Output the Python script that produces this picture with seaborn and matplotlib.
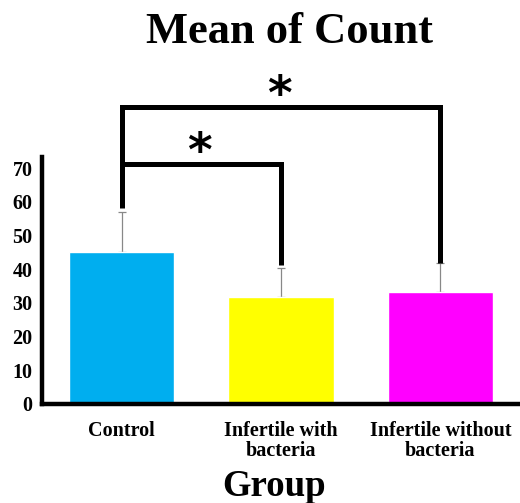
import matplotlib
matplotlib.use("Agg")
import matplotlib.pyplot as plt
import seaborn as sns
import pandas as pd
import numpy as np

groups = ["Control", "Infertile with\nbacteria", "Infertile without\nbacteria"]
means = [45.1, 31.7, 33.2]
sds = [11.9, 8.7, 8.6]
colors = ["#00AEEF", "#FFFF00", "#FF00FF"]
yticks = [0, 10, 20, 30, 40, 50, 60, 70]

sns.set_style("white")
plt.rcParams["font.family"] = ["Liberation Serif", "DejaVu Serif"]
plt.rcParams["text.color"] = "black"
plt.rcParams["xtick.color"] = "black"
plt.rcParams["ytick.color"] = "black"
plt.rcParams["axes.labelcolor"] = "black"

fig = plt.figure(figsize=(5.2, 5.03), dpi=100)
ax = fig.add_axes([0.081, 0.197, 0.919, 0.491])

df = pd.DataFrame({"Group": groups, "Mean": means})
sns.barplot(data=df, x="Group", y="Mean", hue="Group", palette=colors,
            width=0.66, ax=ax, legend=False, errorbar=None, saturation=1)

ax.errorbar(range(len(groups)), means, yerr=[[0]*len(sds), sds], fmt="none",
            ecolor="#888888", elinewidth=0.9, capsize=3, capthick=0.9, zorder=0.5)

ax.set_xlim(-0.5, 2.5)
ax.set_ylim(0, 73.3)
ax.set_yticks(yticks)
ax.set_yticklabels([str(t) for t in yticks], fontsize=14.5, fontweight="bold")
ax.set_xticks(range(len(groups)))
ax.set_xticklabels(groups, fontsize=14.5, fontweight="bold", linespacing=0.95)
ax.tick_params(axis="both", length=0)
ax.tick_params(axis="y", pad=7)
ax.tick_params(axis="x", pad=12.5)

for s in ["top", "right"]:
    ax.spines[s].set_visible(False)
for s in ["left", "bottom"]:
    ax.spines[s].set_linewidth(3.2)
    ax.spines[s].set_color("black")

ax.set_ylabel("")
ax.set_xlabel("Group", fontsize=26.5, fontweight="bold")
ax.xaxis.set_label_coords(0.485, -0.262)
fig.text(0.557, 0.937, "Mean of Count", ha="center", va="center",
         fontsize=32, fontweight="bold")

# significance brackets
lw = 3.6
ax.plot([0, 0, 2, 2], [58.2, 88.1, 88.1, 41.8], color="black", lw=lw,
        clip_on=False, solid_joinstyle="miter", solid_capstyle="butt")
ax.plot([0, 1, 1], [71.2, 71.2, 41.3], color="black", lw=lw,
        clip_on=False, solid_joinstyle="miter", solid_capstyle="butt")
ax.text(0.99, 84.5, "*", ha="center", va="bottom", fontsize=34,
        family="DejaVu Sans", fontweight="bold", clip_on=False)
ax.text(0.49, 67.6, "*", ha="center", va="bottom", fontsize=34,
        family="DejaVu Sans", fontweight="bold", clip_on=False)

fig.savefig("out.png", dpi=100, facecolor="white")
